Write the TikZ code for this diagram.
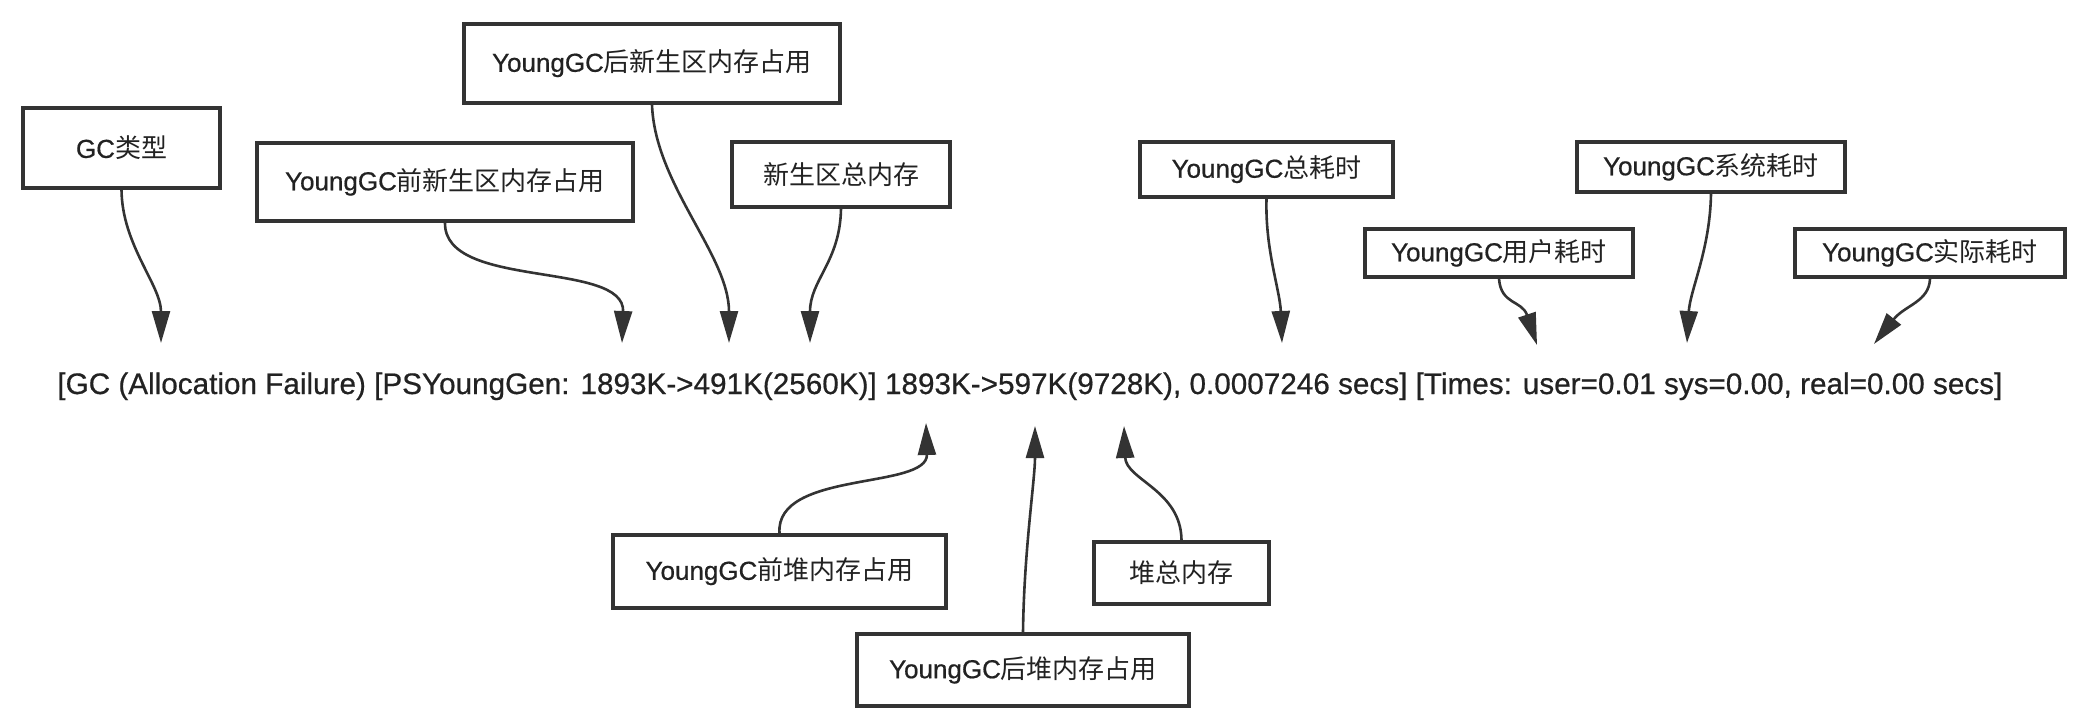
\documentclass[tikz,border=0pt]{standalone}
\usepackage{fontspec}
\setmainfont{Liberation Sans}[FakeBold=0.6]
\newfontfamily\cjkfont{Noto Sans CJK SC}
\newfontfamily\latfont{Liberation Sans}[FakeBold=0.6]
\newcommand\zhtxt[1]{{\cjkfont #1}}
\usetikzlibrary{arrows.meta}
\definecolor{ink}{HTML}{333333}
\definecolor{txt}{HTML}{222222}
\tikzset{
  lbl/.style={draw=ink, line width=1.8pt, fill=white, inner sep=0pt,
    text=txt, font=\fontsize{13pt}{15pt}\selectfont, align=center},
  conn/.style={draw=ink, line width=1.3pt,
    -{Triangle[length=16pt,width=9pt]}, ink},
}
\begin{document}
\begin{tikzpicture}[x=0.5pt,y=-0.5pt]
\useasboundingbox (0,0) rectangle (2088,722);
% main log line
\node[anchor=base west, inner sep=0pt, text=txt] (log) at (57,394)
  {\resizebox{972.5pt}{!}{[GC (Allocation Failure) [PSYoungGen: 1893K->491K(2560K)] 1893K->597K(9728K), 0.0007246 secs] [Times: user=0.01 sys=0.00, real=0.00 secs]}};
% boxes
\node[lbl, minimum width=98.5pt, minimum height=40pt] (gctype) at (121.5,148) {GC\zhtxt{类型}};
\node[lbl, minimum width=188pt, minimum height=39pt] (preyoung) at (445,182) {YoungGC\zhtxt{前新生区内存占用}};
\node[lbl, minimum width=188pt, minimum height=39.5pt] (postyoung) at (652,63.5) {YoungGC\zhtxt{后新生区内存占用}};
\node[lbl, minimum width=109pt, minimum height=32.5pt] (youngtotal) at (841,174.5) {\zhtxt{新生区总内存}};
\node[lbl, minimum width=126.5pt, minimum height=27.5pt] (gctime) at (1266.5,169.5) {YoungGC\zhtxt{总耗时}};
\node[lbl, minimum width=134pt, minimum height=25pt] (systime) at (1711,167) {YoungGC\zhtxt{系统耗时}};
\node[lbl, minimum width=134pt, minimum height=24pt] (usertime) at (1499,253) {YoungGC\zhtxt{用户耗时}};
\node[lbl, minimum width=135pt, minimum height=24pt] (realtime) at (1930,253) {YoungGC\zhtxt{实际耗时}};
\node[lbl, minimum width=166.5pt, minimum height=36.5pt] (preheap) at (779.5,571.5) {YoungGC\zhtxt{前堆内存占用}};
\node[lbl, minimum width=87.5pt, minimum height=31pt] (heaptotal) at (1181.5,573) {\zhtxt{堆总内存}};
\node[lbl, minimum width=166pt, minimum height=36pt] (postheap) at (1023,670) {YoungGC\zhtxt{后堆内存占用}};
% tip coordinates
\coordinate (t1) at (161,343);
\coordinate (t2) at (622,343);
\coordinate (t3) at (729,343);
\coordinate (t4) at (810,343);
\coordinate (t5) at (1282,343);
\coordinate (t6) at (1537,345);
\coordinate (t7) at (1687,343);
\coordinate (t8) at (1874,344);
\coordinate (t9) at (926,423);
\coordinate (t10) at (1035,426);
\coordinate (t11) at (1124,426);
% connectors
\draw[conn] (gctype.south) .. controls (122,245) and (161,285) .. (t1);
\draw[conn] (preyoung.south) .. controls (444,290) and (625,260) .. (t2);
\draw[conn] (postyoung.south) .. controls (655,185) and (729,255) .. (t3);
\draw[conn] (youngtotal.south) .. controls (840,262) and (810,280) .. (t4);
\draw[conn] (gctime.south) .. controls (1265,250) and (1280,290) .. (t5);
\draw[conn] (usertime.south) .. controls (1501,305) and (1522,300) .. (t6);
\draw[conn] (systime.south) .. controls (1710,250) and (1690,290) .. (t7);
\draw[conn] (realtime.south) .. controls (1929,302) and (1905,305) .. (t8);
\draw[conn] (preheap.north) .. controls (775,470) and (928,490) .. (t9);
\draw[conn] (postheap.north) .. controls (1024,550) and (1035,480) .. (t10);
\draw[conn] (heaptotal.north) .. controls (1181,490) and (1126,480) .. (t11);
\end{tikzpicture}
\end{document}
